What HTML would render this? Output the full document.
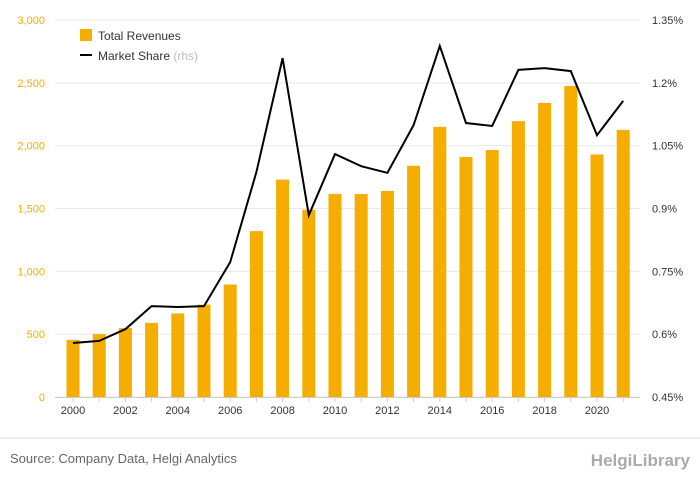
<!DOCTYPE html>
<html><head><meta charset="utf-8"><style>
body{margin:0;background:#fff;font-family:"Liberation Sans",sans-serif;}
svg text{font-family:"Liberation Sans",sans-serif;}
</style></head><body>
<svg id="chart" width="700" height="483">
<g id="grid"></g><g id="bars"></g><g id="line"></g><g id="axes"></g>
<g>
<rect x="80" y="29" width="12" height="12" fill="#f5ad00"/>
<text x="98" y="40" font-size="12" fill="#333">Total Revenues</text>
<line x1="80" y1="55" x2="92" y2="55" stroke="#000" stroke-width="2"/>
<text x="98" y="60" font-size="12" fill="#333">Market Share <tspan fill="#bbb">(rhs)</tspan></text>
</g>
<line x1="0" y1="438" x2="700" y2="438" stroke="#ddd"/>
<text x="10" y="463" font-size="13" fill="#666">Source: Company Data, Helgi Analytics</text>
<text x="690" y="466" font-size="17" fill="#aaa" text-anchor="end" font-weight="bold">HelgiLibrary</text>
</svg>
<script>
const years=[2000,2001,2002,2003,2004,2005,2006,2007,2008,2009,2010,2011,2012,2013,2014,2015,2016,2017,2018,2019,2020,2021];
const revenues=[455,500,550,590,665,735,895,1320,1730,1490,1615,1615,1640,1840,2150,1910,1965,2195,2340,2475,1930,2125];
const share=[0.579,0.584,0.612,0.667,0.665,0.667,0.772,0.987,1.259,0.884,1.03,1.001,0.985,1.099,1.288,1.104,1.097,1.231,1.235,1.228,1.075,1.157];
const leftTicks=[0,500,1000,1500,2000,2500,3000];
const leftLabels=["0","500","1,000","1,500","2,000","2,500","3,000"];
const rightTicks=[0.45,0.6,0.75,0.9,1.05,1.2,1.35];
const rightLabels=["0.45%","0.6%","0.75%","0.9%","1.05%","1.2%","1.35%"];
const NS="http://www.w3.org/2000/svg";
const plotTop=20,plotBot=397;
const xPos=i=>73+i*26.2;
const yL=v=>plotBot-(v/3000)*(plotBot-plotTop);
const yR=v=>plotBot-((v-0.45)/0.9)*(plotBot-plotTop);
function mk(t,a,p){const e=document.createElementNS(NS,t);for(const k in a)e.setAttribute(k,a[k]);p.appendChild(e);return e;}
const grid=document.getElementById('grid'),axes=document.getElementById('axes');
leftTicks.forEach((v,i)=>{
 const l=mk('line',{x1:55,x2:640,y1:yL(v),y2:yL(v),stroke:'#e8e8e8'},grid);
 
 
 const t=mk('text',{x:45,y:yL(v)+4,'font-size':11,fill:'#f5ad00','text-anchor':'end'},axes);
 t.textContent=leftLabels[i];
 
 
});
rightTicks.forEach((v,i)=>{
 const t=mk('text',{x:652,y:yR(v)+4,'font-size':11,fill:'#333'},axes);
 t.textContent=rightLabels[i];
 
 
});
const xa=mk('line',{x1:55,x2:640,y1:plotBot+0.5,y2:plotBot+0.5,stroke:'#ccc'},axes);


years.forEach((yr,i)=>{
 const tk=mk('line',{x1:xPos(i),x2:xPos(i),y1:plotBot,y2:plotBot+5,stroke:'#ccc'},axes);
 
 
 if(i%2===0){const t=mk('text',{x:xPos(i),y:414,'font-size':11,fill:'#333','text-anchor':'middle'},axes);
 t.textContent=yr;
 
 }
});
const bars=document.getElementById('bars');
revenues.forEach((v,i)=>{
 const r=mk('rect',{x:xPos(i)-6.5,y:yL(v),width:13,height:plotBot-yL(v),fill:'#f5ad00'},bars);
 
 
});
const p=mk('polyline',{points:share.map((v,i)=>xPos(i)+','+yR(v)).join(' '),fill:'none',stroke:'#000','stroke-width':2},document.getElementById('line'));


</script>
</body></html>
